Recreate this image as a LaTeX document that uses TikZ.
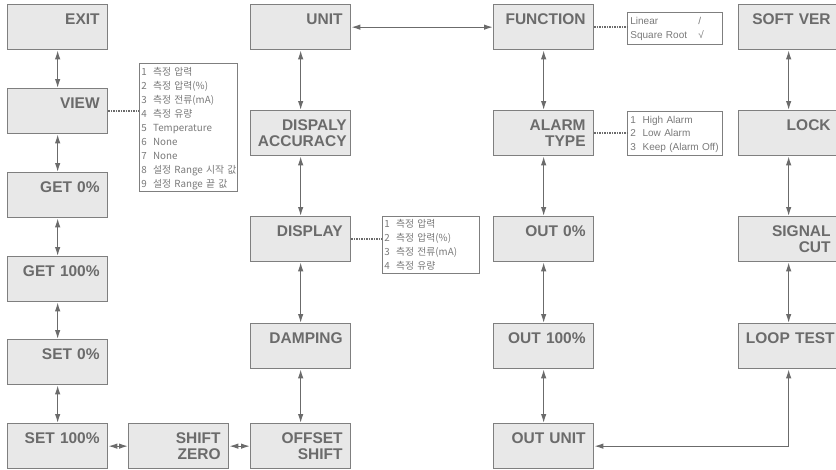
\documentclass[tikz,border=0pt]{standalone}
\usepackage{fontspec}
\setmainfont{Liberation Sans}
\newfontfamily\krfont{Noto Sans CJK KR}
\usetikzlibrary{arrows.meta}
\definecolor{boxfill}{HTML}{E8E8E8}
\definecolor{boxline}{HTML}{7F7F7F}
\definecolor{boxtext}{HTML}{6B6B6B}
\definecolor{listtext}{HTML}{7A7A7A}

\begin{document}
\begin{tikzpicture}[x=1pt, y=-1pt]
    % Define menu styles
    \tikzstyle{menu} = [draw=boxline, line width=1.3pt, fill=boxfill, anchor=north west, minimum width=100pt, minimum height=45pt, inner xsep=8pt, inner ysep=0pt, text width=84pt, align=right, text height=20pt, text depth=25pt, text=boxtext, font=\fontsize{15.5}{16}\selectfont\bfseries]
    \tikzstyle{wide} = [inner xsep=4pt, text width=92pt]
    \tikzstyle{list} = [draw=boxline, line width=0.8pt, fill=white, anchor=north west, inner xsep=3pt, inner ysep=0pt, align=left, text=listtext]
    \tikzstyle{link} = [draw=boxtext, line width=1.2pt, {Latex[length=9pt,width=5.5pt]}-{Latex[length=9pt,width=5.5pt]}]
    \tikzstyle{dots} = [draw=boxtext, line width=1.4pt, dash pattern=on 1.5pt off 1pt]

    \useasboundingbox (0,0) rectangle (836,469);

    % Setting column
    \node[menu] (exit) at (7, 4) {EXIT};
    \node[menu] (view) at (7, 88) {VIEW};
    \node[menu] (get0) at (7, 172) {GET 0\%};
    \node[menu] (get100) at (7, 256) {GET 100\%};
    \node[menu] (set0) at (7, 339) {SET 0\%};
    \node[menu] (set100) at (7, 423) {SET 100\%};
    \node[menu] (shiftzero) at (128, 423) {SHIFT\\ZERO};

    % Display column
    \node[menu] (unit) at (250, 4) {UNIT};
    \node[menu, wide] (accuracy) at (250, 110) {DISPALY\\ACCURACY};
    \node[menu] (display) at (250, 216) {DISPLAY};
    \node[menu] (damping) at (250, 323) {DAMPING};
    \node[menu] (offset) at (250, 423) {OFFSET\\SHIFT};

    % Output column
    \node[menu] (function) at (493, 4) {FUNCTION};
    \node[menu] (alarm) at (493, 110) {ALARM\\TYPE};
    \node[menu] (out0) at (493, 216) {OUT 0\%};
    \node[menu] (out100) at (493, 323) {OUT 100\%};
    \node[menu] (outunit) at (493, 423) {OUT UNIT};

    % Service column
    \node[menu] (softver) at (738, 4) {SOFT VER};
    \node[menu] (lock) at (738, 110) {LOCK};
    \node[menu] (signal) at (738, 216) {SIGNAL\\CUT};
    \node[menu, wide] (loop) at (738, 323) {LOOP TEST};

    % Option lists
    \node[list, inner xsep=2pt, text width=94pt, text height=12.5pt, text depth=115.5pt, font=\krfont\fontsize{9.8}{13.9}\selectfont] (viewlist) at (139, 63)
        {1\hspace{3pt} 측정 압력\\2\hspace{3pt} 측정 압력(\%)\\3\hspace{3pt} 측정 전류(mA)\\4\hspace{3pt} 측정 유량\\5\hspace{3pt} Temperature\\6\hspace{3pt} None\\7\hspace{3pt} None\\\mbox{8\hspace{3pt} 설정 Range 시작 값}\\9\hspace{3pt} 설정 Range 끝 값};
    \node[list, inner xsep=2pt, text width=93pt, text height=11.5pt, text depth=45.5pt, font=\krfont\fontsize{9.8}{13.9}\selectfont] (displaylist) at (382, 216)
        {1\hspace{3pt} 측정 압력\\2\hspace{3pt} 측정 압력(\%)\\3\hspace{3pt} 측정 전류(mA)\\4\hspace{3pt} 측정 유량};
    \node[list, text width=89pt, text height=12pt, text depth=20pt, font=\fontsize{10}{13.6}\selectfont] (functionlist) at (627, 12)
        {\makebox[68pt][l]{Linear}/\\\makebox[68pt][l]{Square Root}√};
    \node[list, text width=89pt, text height=12pt, text depth=32pt, font=\fontsize{10}{13.5}\selectfont] (alarmlist) at (627, 111)
        {1\ \ High Alarm\\2\ \ Low Alarm\\3\ \ Keep (Alarm Off)};

    % Menu links
    \draw[link] (exit) -- (view);
    \draw[link] (view) -- (get0);
    \draw[link] (get0) -- (get100);
    \draw[link] (get100) -- (set0);
    \draw[link] (set0) -- (set100);
    \draw[link] (set100) -- (shiftzero);
    \draw[link] (shiftzero) -- (offset);
    \draw[link] (offset) -- (damping);
    \draw[link] (damping) -- (display);
    \draw[link] (display) -- (accuracy);
    \draw[link] (accuracy) -- (unit);
    \draw[link] (unit) -- (function);
    \draw[link] (function) -- (alarm);
    \draw[link] (alarm) -- (out0);
    \draw[link] (out0) -- (out100);
    \draw[link] (out100) -- (outunit);
    \draw[link] (softver) -- (lock);
    \draw[link] (lock) -- (signal);
    \draw[link] (signal) -- (loop);
    \draw[link] (loop.south) |- (outunit.east);

    % Option links
    \draw[dots] (view.east) -- (view.east -| viewlist.west);
    \draw[dots] (display.east) -- (display.east -| displaylist.west);
    \draw[dots] (function.east) -- (function.east -| functionlist.west);
    \draw[dots] (alarm.east) -- (alarm.east -| alarmlist.west);
\end{tikzpicture}
\end{document}
